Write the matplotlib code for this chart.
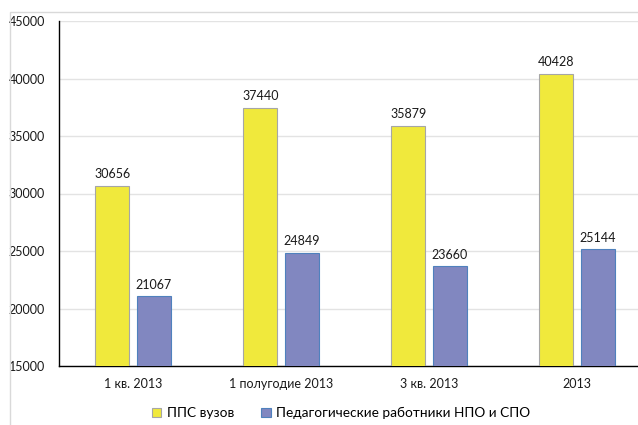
import matplotlib.pyplot as plt
import numpy as np
from matplotlib.patches import Rectangle

plt.rcParams["font.family"] = ["Lato", "DejaVu Sans"]

categories = ["1 кв. 2013", "1 полугодие 2013", "3 кв. 2013", "2013"]
pps = [30656, 37440, 35879, 40428]
ped = [21067, 24849, 23660, 25144]
series_names = ["ППС вузов", "Педагогические работники НПО и СПО"]
yticks = [15000, 20000, 25000, 30000, 35000, 40000, 45000]

W, H = 638, 425
fig = plt.figure(figsize=(W / 100, H / 100), dpi=100)

# outer chart frame (cropped at right/bottom)
fig.patches.append(Rectangle((10 / W, -0.1), 1.2, 1 - 12 / H + 0.1,
                             transform=fig.transFigure, fill=False,
                             edgecolor="#d9d9d9", linewidth=1.0))

# axes area: left 59px, 148px per category, 45000 at y=21, 15000 at y=366
ax = fig.add_axes([59 / W, 1 - 366 / H, 592 / W, 345 / H])
x = np.arange(len(categories))
bw, off = 0.23, 0.139

b1 = ax.bar(x - off, pps, bw, color="#f0e93c", edgecolor="#a6a6a6", linewidth=0.8,
            label=series_names[0], zorder=3)
b2 = ax.bar(x + off, ped, bw, color="#8187c0", edgecolor="#4f81bd", linewidth=0.8,
            label=series_names[1], zorder=3)
for bars in (b1, b2):
    ax.bar_label(bars, padding=4, fontsize=9, color="#1a1a1a")

ax.set_xlim(-0.5, len(categories) - 0.5)
ax.set_ylim(15000, 45000)
ax.set_yticks(yticks)
ax.set_xticks(x, categories)
ax.tick_params(axis="both", length=0, labelsize=9, colors="#1a1a1a")
ax.tick_params(axis="y", pad=10)
ax.tick_params(axis="x", pad=9)
ax.grid(axis="y", color="#e3e3e3", linewidth=1.0, zorder=0)
for s in ("top", "right"):
    ax.spines[s].set_visible(False)
for s in ("left", "bottom"):
    ax.spines[s].set_color("black")
    ax.spines[s].set_linewidth(1.0)

fig.legend(handles=[b1, b2], loc="center", bbox_to_anchor=(341 / W, 1 - 413 / H),
           ncol=2, frameon=False, fontsize=9.8, handlelength=0.7, handleheight=0.7,
           handletextpad=0.4, columnspacing=2.0)

fig.savefig("out.png", dpi=100)
